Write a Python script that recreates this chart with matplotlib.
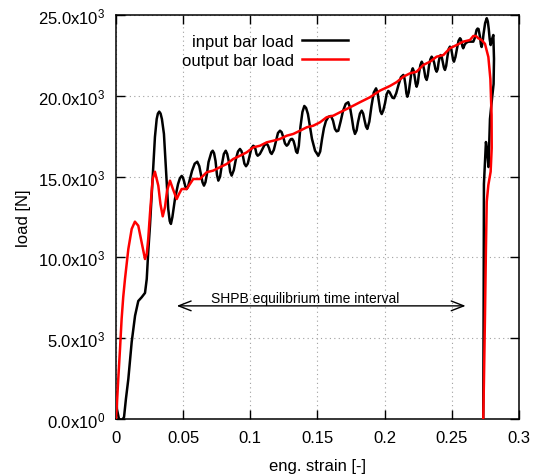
import matplotlib
matplotlib.use("Agg")
import matplotlib.pyplot as plt
from matplotlib.ticker import FixedLocator, FixedFormatter

plt.rcParams['font.family'] = ['Liberation Sans', 'DejaVu Sans']
plt.rcParams['mathtext.fontset'] = 'custom'
plt.rcParams['mathtext.rm'] = 'Liberation Sans'
plt.rcParams['mathtext.default'] = 'regular'

# input bar load (strain [-], load [N])
in_strain = [0.0004, 0.0007, 0.0022, 0.0045, 0.0060, 0.0074, 0.0092, 0.0117, 0.0142, 0.0166,
             0.0191, 0.0216, 0.0229, 0.0240, 0.0253, 0.0266, 0.0278, 0.0290, 0.0303, 0.0312,
             0.0322, 0.0332, 0.0342, 0.0357, 0.0372, 0.0389, 0.0400, 0.0409, 0.0420, 0.0439,
             0.0462, 0.0476, 0.0489, 0.0498, 0.0506, 0.0516, 0.0526, 0.0535, 0.0543, 0.0566,
             0.0586, 0.0605, 0.0620, 0.0633, 0.0644, 0.0655, 0.0666, 0.0677, 0.0689, 0.0700,
             0.0710, 0.0720, 0.0730, 0.0741, 0.0752, 0.0762, 0.0775, 0.0789, 0.0803, 0.0817,
             0.0828, 0.0839, 0.0850, 0.0861, 0.0877, 0.0893, 0.0908, 0.0923, 0.0934, 0.0945,
             0.0956, 0.0968, 0.0981, 0.0994, 0.1008, 0.1022, 0.1030, 0.1038, 0.1046, 0.1055,
             0.1071, 0.1087, 0.1105, 0.1122, 0.1130, 0.1139, 0.1149, 0.1159, 0.1175, 0.1191,
             0.1206, 0.1221, 0.1233, 0.1245, 0.1258, 0.1271, 0.1282, 0.1292, 0.1302, 0.1312,
             0.1322, 0.1332, 0.1341, 0.1350, 0.1361, 0.1373, 0.1388, 0.1402, 0.1415, 0.1429,
             0.1444, 0.1459, 0.1482, 0.1506, 0.1520, 0.1534, 0.1548, 0.1563, 0.1582, 0.1601,
             0.1616, 0.1630, 0.1642, 0.1655, 0.1672, 0.1690, 0.1710, 0.1729, 0.1743, 0.1757,
             0.1768, 0.1779, 0.1791, 0.1802, 0.1816, 0.1829, 0.1840, 0.1850, 0.1861, 0.1871,
             0.1886, 0.1902, 0.1919, 0.1936, 0.1947, 0.1958, 0.1968, 0.1978, 0.1990, 0.2003,
             0.2015, 0.2027, 0.2037, 0.2047, 0.2058, 0.2070, 0.2086, 0.2103, 0.2121, 0.2139,
             0.2147, 0.2155, 0.2162, 0.2169, 0.2179, 0.2189, 0.2199, 0.2209, 0.2216, 0.2224,
             0.2231, 0.2238, 0.2247, 0.2256, 0.2266, 0.2276, 0.2285, 0.2294, 0.2303, 0.2313,
             0.2321, 0.2330, 0.2340, 0.2350, 0.2359, 0.2369, 0.2378, 0.2387, 0.2395, 0.2402,
             0.2410, 0.2417, 0.2425, 0.2433, 0.2441, 0.2449, 0.2458, 0.2468, 0.2477, 0.2486,
             0.2494, 0.2501, 0.2509, 0.2516, 0.2527, 0.2538, 0.2550, 0.2561, 0.2567, 0.2573,
             0.2579, 0.2585, 0.2595, 0.2605, 0.2623, 0.2660, 0.2672, 0.2684, 0.2692, 0.2699,
             0.2710, 0.2716, 0.2722, 0.2729, 0.2736, 0.2748, 0.2760, 0.2768, 0.2775, 0.2782,
             0.2789, 0.2799, 0.2809, 0.2814, 0.2811, 0.2795, 0.2784, 0.2773, 0.2762, 0.2754,
             0.2747, 0.2739, 0.2737, 0.2734]
in_load = [1670, 620, 0, -80, 120, 1240, 2480, 4770, 6390, 7300,
           7530, 7800, 8660, 10330, 11960, 13920, 15670, 17450, 18560, 18900,
           19020, 18900, 18560, 17640, 15470, 13000, 12250, 12070, 12500, 13610,
           14540, 14900, 15040, 14950, 14730, 14400, 14230, 14350, 14600, 15350,
           15800, 15920, 15650, 15100, 14650, 14440, 14650, 15160, 15900, 16210,
           16500, 16600, 16450, 15970, 15100, 14750, 15000, 15780, 16400, 16600,
           16400, 15970, 15300, 15060, 15400, 16090, 16550, 16710, 16580, 16270,
           15800, 15640, 15800, 16270, 16750, 16910, 16850, 16710, 16400, 16290,
           16400, 16650, 16950, 17020, 16950, 16770, 16500, 16400, 16650, 17200,
           17700, 17840, 17750, 17450, 17050, 16910, 17000, 17200, 17320, 17330,
           17200, 16890, 16550, 16460, 16900, 18070, 19000, 19370, 19250, 18870,
           18100, 17330, 16600, 16290, 16550, 17330, 18000, 18440, 18700, 18750,
           18450, 17950, 17800, 17840, 18400, 19060, 19500, 19600, 19250, 18560,
           17950, 17640, 17850, 18380, 18900, 19080, 18900, 18500, 18100, 17950,
           18400, 19370, 20200, 20460, 20200, 19620, 19050, 18870, 19100, 19550,
           20100, 20300, 20220, 20050, 19880, 19850, 20150, 20670, 21150, 21290,
           21100, 20670, 20150, 19940, 20200, 20850, 21450, 21700, 21550, 21160,
           20750, 20560, 20800, 21410, 21900, 22110, 21950, 21600, 21150, 20980,
           21250, 21840, 22250, 22420, 22300, 22030, 21650, 21490, 21650, 22090,
           22400, 22520, 22400, 22090, 21750, 21600, 21850, 22460, 22900, 23040,
           22950, 22650, 22250, 22110, 22400, 22900, 23400, 23560, 23500, 23330,
           23050, 22940, 23150, 23270, 23350, 23350, 23600, 24070, 24160, 24130,
           23640, 23200, 23020, 23300, 23820, 24500, 24800, 24600, 24130, 23500,
           23140, 23500, 23760, 22280, 20730, 19490, 18560, 15590, 16710, 17140,
           15970, 14540, 7430, 0]

# output bar load (strain [-], load [N])
out_strain = [0.0000, 0.0007, 0.0017, 0.0030, 0.0042, 0.0054, 0.0067, 0.0092, 0.0117, 0.0141,
              0.0166, 0.0191, 0.0216, 0.0229, 0.0240, 0.0253, 0.0273, 0.0290, 0.0315, 0.0331,
              0.0348, 0.0365, 0.0380, 0.0402, 0.0424, 0.0452, 0.0469, 0.0489, 0.0526, 0.0575,
              0.0625, 0.0675, 0.0724, 0.0774, 0.0824, 0.0873, 0.0923, 0.0973, 0.1022, 0.1072,
              0.1122, 0.1171, 0.1221, 0.1271, 0.1320, 0.1370, 0.1420, 0.1469, 0.1519, 0.1568,
              0.1618, 0.1668, 0.1717, 0.1767, 0.1816, 0.1891, 0.1965, 0.2040, 0.2090, 0.2139,
              0.2189, 0.2238, 0.2288, 0.2338, 0.2387, 0.2437, 0.2486, 0.2536, 0.2585, 0.2635,
              0.2660, 0.2680, 0.2697, 0.2722, 0.2747, 0.2772, 0.2787, 0.2796, 0.2797, 0.2789,
              0.2772, 0.2760, 0.2754, 0.2747, 0.2739, 0.2734]
out_load = [0, 930, 2480, 4330, 6190, 7550, 8660, 10520, 11760, 12210,
            11960, 10930, 9900, 10210, 11140, 12690, 14850, 15300, 14440, 13300,
            12540, 13120, 14110, 14750, 14230, 13610, 13920, 14230, 14230, 14850,
            14850, 15270, 15370, 15580, 15780, 16090, 16290, 16500, 16810, 16910,
            17120, 17220, 17330, 17530, 17640, 17840, 18050, 18150, 18360, 18670,
            18770, 18980, 19180, 19390, 19600, 19910, 20320, 20610, 20850, 21180,
            21390, 21490, 21910, 22110, 22420, 22520, 22940, 23140, 23350, 23450,
            23700, 23700, 23560, 23450, 23210, 22400, 21040, 18810, 16770, 15300,
            14480, 13450, 10580, 6440, 2290, 0]

xticks = [0, 0.05, 0.1, 0.15, 0.2, 0.25, 0.3]
xticklabels = ['0', '0.05', '0.1', '0.15', '0.2', '0.25', '0.3']
yticks = [0, 5000, 10000, 15000, 20000, 25000]
yticklabels = ['0.0x10$^0$', '5.0x10$^3$', '10.0x10$^3$', '15.0x10$^3$',
               '20.0x10$^3$', '25.0x10$^3$']

fig = plt.figure(figsize=(5.33, 4.77), dpi=100)
ax = fig.add_axes([0.2176, 0.1195, 0.7561, 0.847])

ax.plot(in_strain, in_load, color='black', lw=1.8, solid_joinstyle='round',
        label='input bar load', zorder=3)
ax.plot(out_strain, out_load, color='red', lw=1.8, solid_joinstyle='round',
        label='output bar load', zorder=4)

ax.set_xlim(0, 0.3)
ax.set_ylim(0, 25000)
ax.xaxis.set_major_locator(FixedLocator(xticks))
ax.xaxis.set_major_formatter(FixedFormatter(xticklabels))
ax.yaxis.set_major_locator(FixedLocator(yticks))
ax.yaxis.set_major_formatter(FixedFormatter(yticklabels))
ax.tick_params(direction='in', length=6.5, width=1, top=True, right=True,
               labelsize=12, pad=8)
ax.grid(True, color='#a0a0a0', linestyle=(0, (1, 3)), linewidth=0.8)
for s in ax.spines.values():
    s.set_linewidth(1.1)

ax.set_xlabel('eng. strain [-]', fontsize=12, labelpad=9)
ax.set_ylabel('load [N]', fontsize=12, labelpad=5)

# equilibrium interval arrow
ax.annotate('', xy=(0.0452, 7000), xytext=(0.2603, 7000),
            arrowprops=dict(arrowstyle='<->,head_length=0.9,head_width=0.35',
                            color='black', lw=1, shrinkA=0, shrinkB=0))
ax.text(0.1407, 7210, 'SHPB equilibrium time interval', fontsize=10,
        ha='center', va='baseline')

ax.legend(loc='center right', bbox_to_anchor=(0.5764, 0.911), frameon=False,
          markerfirst=False, fontsize=12, handlelength=2.75, handletextpad=0.5,
          borderpad=0, borderaxespad=0, labelspacing=0.25)

fig.savefig('out.png', dpi=100)
